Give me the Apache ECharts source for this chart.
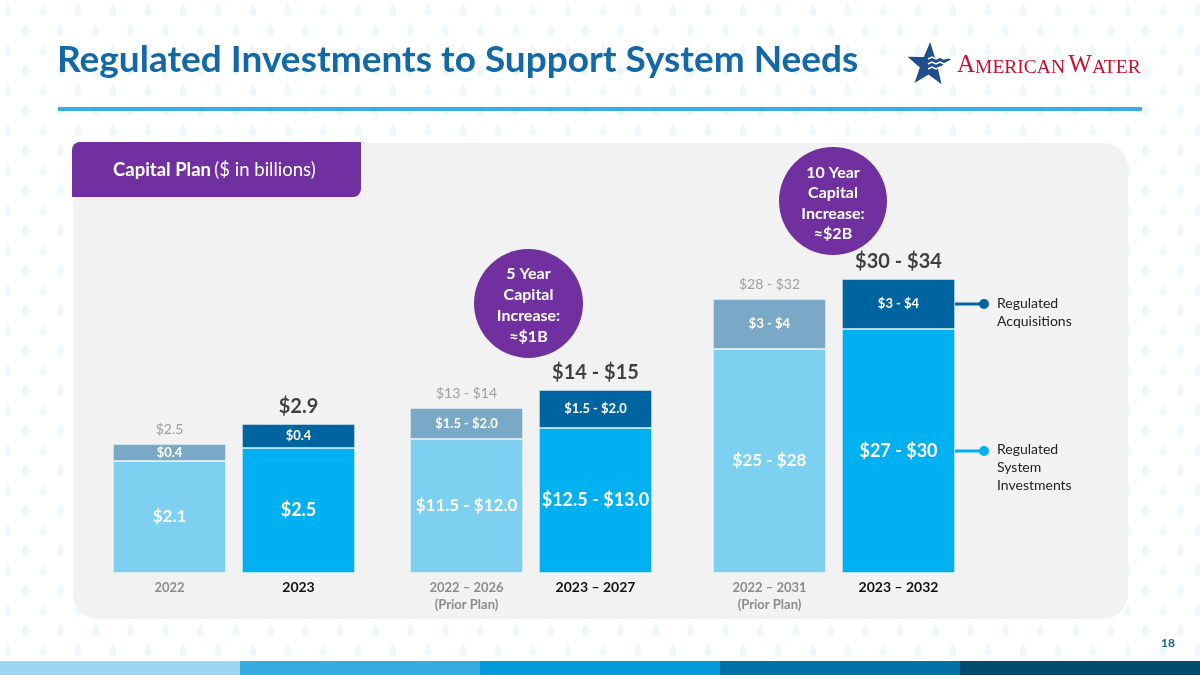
<!DOCTYPE html>
<html>
<head>
<meta charset="utf-8">
<script src="https://cdn.jsdelivr.net/npm/echarts@6/dist/echarts.min.js"></script>
<style>
  html, body { margin: 0; padding: 0; background-color: #fff; }
  #main { width: 1200px; height: 675px; }
</style>
</head>
<body>
<div id="main"></div>
<script>
// categories on the slide, left to right
const categories = ['2022', '2023', '2022 – 2026\n(Prior Plan)', '2023 – 2027', '2022 – 2031\n(Prior Plan)', '2023 – 2032']
const isPrior = [true, false, true, false, true, false]
// the slide draws its bars on a schematic scale, so these are bar heights (chart units)
const systemInv = [11.2, 12.5, 13.4, 14.5, 22.4, 24.4]
const acquisitions = [1.7, 2.4, 3.1, 3.8, 5.0, 5.0]
// labels printed on the bars ($ in billions)
const systemText = ['$2.1', '$2.5', '$11.5 - $12.0', '$12.5 - $13.0', '$25 - $28', '$27 - $30']
const acqText = ['$0.4', '$0.4', '$1.5 - $2.0', '$1.5 - $2.0', '$3 - $4', '$3 - $4']
const totalText = ['$2.5', '$2.9', '$13 - $14', '$14 - $15', '$28 - $32', '$30 - $34']
const groups = [[0, 1], [2, 3], [4, 5]]

const FONT = 'Lato, "Noto Sans", sans-serif'
const C = {
    priorSys: '#7DD0EF',
    priorAcq: '#79A9C6',
    curSys: '#00B0F0',
    curAcq: '#0064A0',
    purple: '#7030A0',
    title: '#1369A8'
}

// faint water drop background
function dropPattern () {
    const c = document.createElement('canvas')
    c.width = 35
    c.height = 40
    const ctx = c.getContext('2d')
    ctx.fillStyle = '#edf7fc'
    const drop = (x, y) => {
        ctx.beginPath()
        ctx.moveTo(x, y - 7)
        ctx.bezierCurveTo(x + 1.2, y - 3, x + 3.5, y - 1, x + 3.5, y + 2)
        ctx.arc(x, y + 2, 3.5, 0, Math.PI)
        ctx.bezierCurveTo(x - 3.5, y - 1, x - 1.2, y - 3, x, y - 7)
        ctx.fill()
    }
    drop(8, 10)
    drop(25.5, 30)
    return c.toDataURL()
}
document.body.style.backgroundImage = 'url(' + dropPattern() + ')'

const chart = echarts.init(document.getElementById('main'))
const gridLeft = [105, 402, 705]
const BAR_W = 113

const grids = groups.map((g, k) => ({ left: gridLeft[k], width: 258, top: 273, height: 300 }))
const xAxes = groups.map((g, k) => ({
    type: 'category',
    gridIndex: k,
    data: g.map(i => categories[i]),
    axisLine: { show: false },
    axisTick: { show: false },
    axisLabel: {
        interval: 0,
        margin: 6,
        formatter: v => {
            const st = isPrior[categories.indexOf(v)] ? 'prior' : 'cur'
            return v.split('\n').map(s => '{' + st + '|' + s + '}').join('\n')
        },
        rich: {
            prior: { color: '#8c8c8c', fontWeight: 'bold', fontSize: 13, lineHeight: 17, fontFamily: FONT },
            cur: { color: '#111', fontWeight: 'bold', fontSize: 14, lineHeight: 17, fontFamily: FONT }
        }
    }
}))
const yAxes = groups.map((g, k) => ({ type: 'value', gridIndex: k, min: 0, max: 30, show: false }))

const series = []
groups.forEach((g, k) => {
    series.push({
        type: 'bar',
        name: 'Regulated System Investments',
        xAxisIndex: k,
        yAxisIndex: k,
        stack: 'g' + k,
        barWidth: BAR_W,
        z: 5,
        data: g.map(i => ({
            value: systemInv[i],
            itemStyle: { color: isPrior[i] ? C.priorSys : C.curSys },
            label: { fontSize: isPrior[i] ? 17 : 18 }
        })),
        itemStyle: { borderColor: 'rgba(255,255,255,0.6)', borderWidth: 0.8 },
        label: {
            show: true,
            position: 'inside',
            color: '#fff',
            fontWeight: 'bold',
            fontFamily: FONT,
            formatter: p => systemText[g[p.dataIndex]]
        }
    })
    series.push({
        type: 'bar',
        name: 'Regulated Acquisitions',
        xAxisIndex: k,
        yAxisIndex: k,
        stack: 'g' + k,
        barWidth: BAR_W,
        z: 5,
        data: g.map(i => ({
            value: acquisitions[i],
            itemStyle: { color: isPrior[i] ? C.priorAcq : C.curAcq }
        })),
        itemStyle: { borderColor: 'rgba(255,255,255,0.6)', borderWidth: 0.8 },
        label: {
            show: true,
            position: 'inside',
            color: '#fff',
            fontWeight: 'bold',
            fontSize: 13,
            fontFamily: FONT,
            formatter: p => acqText[g[p.dataIndex]]
        }
    })
    // totals above each bar
    series.push({
        type: 'scatter',
        xAxisIndex: k,
        yAxisIndex: k,
        symbolSize: 1,
        itemStyle: { color: 'transparent' },
        z: 6,
        data: g.map((i, j) => ({
            value: [j, systemInv[i] + acquisitions[i]],
            label: isPrior[i]
                ? { color: '#8a8a8a', fontSize: 14, fontWeight: 'normal' }
                : { color: '#111', fontSize: 20, fontWeight: 'bold' }
        })),
        label: {
            show: true,
            position: 'top',
            distance: 7,
            fontFamily: FONT,
            formatter: p => totalText[g[p.dataIndex]]
        }
    })
})

const deco = [
    // title + rule
    { type: 'text', x: 57, y: 60, z: 1, style: { text: 'Regulated Investments to Support System Needs', fill: C.title, verticalAlign: 'middle', font: 'bold 37px ' + FONT } },
    { type: 'rect', shape: { x: 58, y: 107, width: 1084, height: 4 }, style: { fill: '#3AAEE2' }, z: 1 },
    // panel + tab
    { type: 'rect', shape: { x: 73, y: 143, width: 1055, height: 476, r: 25 }, style: { fill: '#f2f2f2' }, z: 0 },
    { type: 'rect', shape: { x: 72, y: 142, width: 289, height: 55, r: [8, 0, 8, 0] }, style: { fill: C.purple }, z: 1 },
    {
        type: 'text', x: 113, y: 170, z: 2,
        style: {
            text: '{b|Capital Plan} {n|($ in billions)}',
            verticalAlign: 'middle',
            rich: {
                b: { fill: '#fff', fontWeight: 'bold', fontSize: 18.5, fontFamily: FONT },
                n: { fill: '#fff', fontSize: 18.5, fontFamily: FONT }
            }
        }
    },
    // increase bubbles
    { type: 'circle', shape: { cx: 528.5, cy: 303.5, r: 54.5 }, style: { fill: C.purple }, z: 1 },
    { type: 'text', x: 528.5, y: 305, z: 2, style: { text: '5 Year\nCapital\nIncrease:\n≈$1B', fill: '#fff', align: 'center', verticalAlign: 'middle', lineHeight: 21, font: 'bold 16px ' + FONT } },
    { type: 'circle', shape: { cx: 833, cy: 201, r: 54 }, style: { fill: C.purple }, z: 1 },
    { type: 'text', x: 833, y: 203.5, z: 2, style: { text: '10 Year\nCapital\nIncrease:\n≈$2B', fill: '#fff', align: 'center', verticalAlign: 'middle', lineHeight: 20.5, font: 'bold 16px ' + FONT } },
    // logo
    {
        type: 'polygon', z: 1,
        shape: {
            points: [0, 1, 2, 3, 4, 5, 6, 7, 8, 9].map(j => {
                const a = -Math.PI / 2 + j * Math.PI / 5 + 0.05
                const r = j % 2 ? 9.5 : 23
                return [929 + r * Math.cos(a), 65 + r * Math.sin(a)]
            })
        },
        style: { fill: '#1F4E8C' }
    },
    ...[59, 64, 69].map(y => ({
        type: 'polyline', z: 2,
        shape: { points: [[928, y], [932, y - 2], [936, y], [940, y - 2], [944, y], [948, y - 2], [952, y]] },
        style: { stroke: '#fff', lineWidth: 1.4, fill: null }
    })),
    {
        type: 'text', x: 957, y: 78, z: 2,
        style: {
            text: '{a|A}{s|MERICAN} {a|W}{s|ATER}',
            verticalAlign: 'bottom',
            rich: {
                a: { fill: '#C8102E', fontSize: 25, fontFamily: '"Liberation Serif", "DejaVu Serif", serif', verticalAlign: 'bottom', lineHeight: 25 },
                s: { fill: '#C8102E', fontSize: 19.5, fontFamily: '"Liberation Serif", "DejaVu Serif", serif', verticalAlign: 'bottom', lineHeight: 22.5 }
            }
        }
    },
    // footer
    { type: 'text', x: 1168, y: 643, z: 2, style: { text: '18', fill: '#1B5E91', align: 'center', verticalAlign: 'middle', font: 'bold 12px ' + FONT } },
    ...['#9DD6F1', '#35ADE2', '#009AD9', '#0072A6', '#004B6E'].map((c, j) => ({
        type: 'rect', z: 1, shape: { x: j * 240, y: 661, width: 240, height: 14 }, style: { fill: c }
    }))
]

chart.setOption({
    backgroundColor: 'transparent',
    textStyle: { fontFamily: FONT },
    animation: false,
    grid: grids,
    xAxis: xAxes,
    yAxis: yAxes,
    series: series,
    graphic: { elements: deco }
})

// call-outs for the last bar, tied to its segments
const pAcq = chart.convertToPixel({ gridIndex: 2 }, [1, systemInv[5] + acquisitions[5] / 2])
const pSys = chart.convertToPixel({ gridIndex: 2 }, [1, systemInv[5] / 2])
const x0 = pAcq[0] + BAR_W / 2
const callout = (p, color, text, dy) => [
    { type: 'line', z: 3, shape: { x1: x0, y1: p[1], x2: x0 + 29, y2: p[1] }, style: { stroke: color, lineWidth: 3 } },
    { type: 'circle', z: 3, shape: { cx: x0 + 29, cy: p[1], r: 5 }, style: { fill: color } },
    { type: 'text', z: 3, x: x0 + 42, y: p[1] + dy, style: { text: text, fill: '#222', lineHeight: 18, verticalAlign: 'top', font: '14px ' + FONT } }
]
chart.setOption({
    graphic: {
        elements: deco.concat(
            callout(pAcq, C.curAcq, 'Regulated\nAcquisitions', -10),
            callout(pSys, C.curSys, 'Regulated\nSystem\nInvestments', -11)
        )
    }
})
</script>
</body>
</html>
